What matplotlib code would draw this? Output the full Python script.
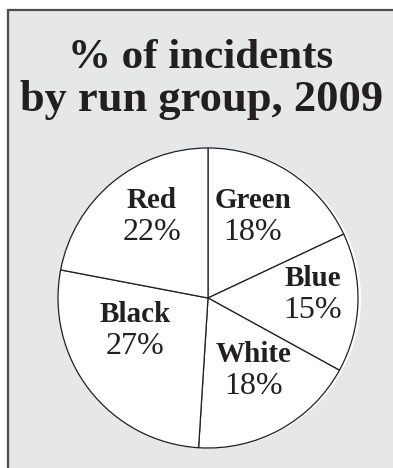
import matplotlib.pyplot as plt
from matplotlib.patches import Rectangle, Circle

# data, clockwise from 12 o'clock
groups = ['Green', 'Blue', 'White', 'Black', 'Red']
shares = [18, 15, 18, 27, 22]

# label positions in pixels (x from left, y from top) - layout only
label_pos = [(253, 200), (313, 278), (254, 355), (135, 315), (152, 200)]

W, H = 393, 468
ink = '#231f20'
plt.rcParams['font.family'] = ['Liberation Serif', 'DejaVu Serif']

fig = plt.figure(figsize=(W / 100, H / 100), dpi=100)
fig.patch.set_facecolor('white')
ax = fig.add_axes([0, 0, 1, 1])

# grey panel with border (runs off right and bottom edges)
ax.add_patch(Rectangle((8, -20), W + 20, H - 10 + 20, facecolor='#e6e7e8',
                       edgecolor='#4d4d4d', linewidth=1.6, zorder=0))

# title
ax.text(201, H - 68, '% of incidents', ha='center', va='baseline',
        fontsize=31, fontweight='bold', color=ink)
ax.text(202, H - 111, 'by run group, 2009', ha='center', va='baseline',
        fontsize=32, fontweight='bold', color=ink)

# pie
cx, cy, r = 208, H - 298, 150
ax.add_patch(Circle((cx + 3, cy), r, facecolor='white', edgecolor='none', zorder=1))
ax.pie(shares, startangle=90, counterclock=False, center=(cx, cy), radius=r,
       colors=['white'] * len(shares),
       wedgeprops=dict(edgecolor=ink, linewidth=0.9), frame=True)
ax.set_xlim(0, W)
ax.set_ylim(0, H)
ax.set_aspect('equal')
ax.axis('off')

for g, s, (x, y) in zip(groups, shares, label_pos):
    ax.text(x, H - y, g, ha='center', va='center', fontsize=21,
            fontweight='bold', color=ink, zorder=5)
    ax.text(x, H - y - 32, f'{s}%', ha='center', va='center', fontsize=23,
            color=ink, zorder=5)

fig.savefig('out.png', dpi=100)
